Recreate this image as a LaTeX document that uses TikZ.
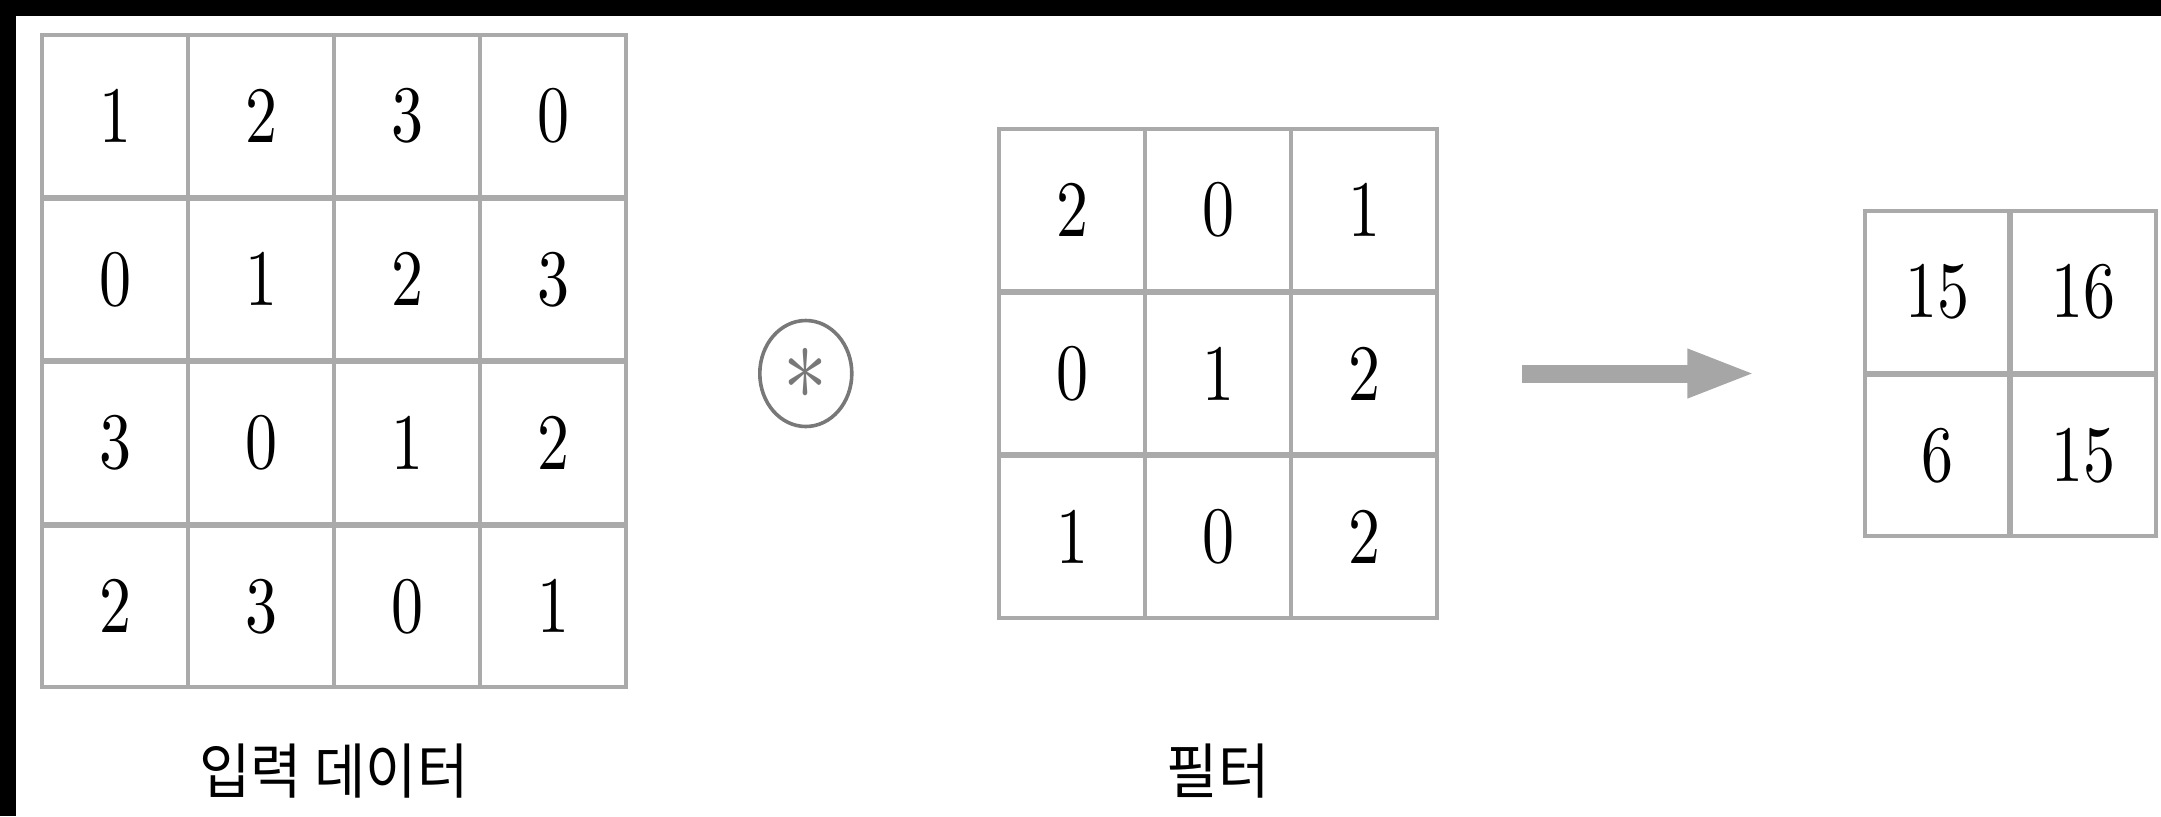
\documentclass[tikz,border=0pt]{standalone}
\usepackage{fontspec}
\usepackage{graphicx}
\usepackage{xcolor}
\usepackage{tikz}
\usetikzlibrary{shapes.geometric, arrows.meta, positioning, matrix}
\newfontfamily\numfont{lmroman10-regular.otf}[FakeStretch=0.8]
\newfontfamily\krfont{Noto Sans CJK KR}[FakeStretch=0.93]
\definecolor{gridgray}{RGB}{170,170,170}
\definecolor{arrowgray}{RGB}{166,166,166}
\definecolor{opgray}{RGB}{120,120,120}
\tikzset{
  cellbox/.style={rectangle, draw=gridgray, line width=2pt, minimum width=73pt,
                  minimum height=80.75pt, inner sep=0pt, anchor=center,
                  font=\fontsize{40}{48}\selectfont\numfont},
  gridmat/.style={matrix of nodes, inner sep=0pt, column sep=-2pt, row sep=-1pt,
                  nodes={cellbox}},
  opnode/.style={ellipse, draw=opgray, line width=1.8pt, minimum width=46pt,
                 minimum height=53pt, inner sep=0pt, text=opgray},
  bigarrow/.style={draw=arrowgray, line width=9pt,
                   -{Triangle[length=34.5pt, width=22pt]}},
  caption/.style={inner sep=0pt, font=\fontsize{30}{36}\selectfont\krfont},
}

\begin{document}
\begin{tikzpicture}
  % page
  \fill[black] (0,0) rectangle (1080.5pt,-408pt);
  \fill[white] (8pt,-8pt) rectangle (1080.5pt,-408pt);
  \useasboundingbox (0,0) rectangle (1080.5pt,-408pt);

  % Input data
  \matrix[gridmat] (input) at (167pt,-180.5pt) {
    1 & 2 & 3 & 0 \\
    0 & 1 & 2 & 3 \\
    3 & 0 & 1 & 2 \\
    2 & 3 & 0 & 1 \\
  };

  % Filter
  \matrix[gridmat] (filter) at (609pt,-186.75pt) {
    2 & 0 & 1 \\
    0 & 1 & 2 \\
    1 & 0 & 2 \\
  };

  % Convolution operator
  \node[opnode, left=71.5pt of filter] (conv)
    {\scalebox{4.4}[5.5]{$\ast$}};

  % Output
  \matrix[gridmat, column sep=-1pt, nodes={minimum width=72.25pt},
          right=211.5pt of filter] (output) {
    15 & 16 \\
    6 & 15 \\
  };

  % Captions
  \node[caption, below=27pt of input] (inputlabel) {입력 데이터};
  \node[caption] (filterlabel) at (filter |- inputlabel) {필터};

  % Arrow
  \draw[bigarrow] ([xshift=41.5pt]filter.east) -- ([xshift=-53pt]output.west);

\end{tikzpicture}
\end{document}
